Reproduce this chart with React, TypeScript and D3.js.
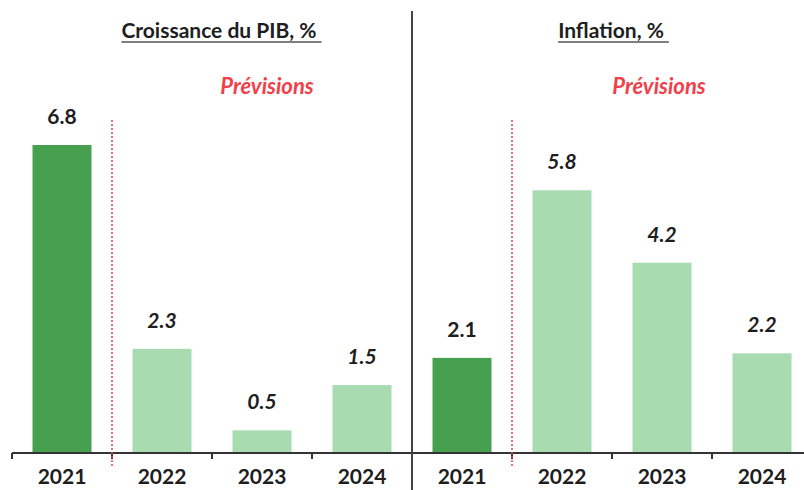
import { useEffect, useRef } from "react";
import * as d3 from "d3";

const years = ["2021", "2022", "2023", "2024"];
const gdpValues = [6.8, 2.3, 0.5, 1.5];
const inflationValues = [2.1, 5.8, 4.2, 2.2];
const panelTitles = ["Croissance du PIB, %", "Inflation, %"];
const forecastLabel = "Prévisions";

const App = () => {
  const ref = useRef<SVGSVGElement | null>(null);

  useEffect(() => {
    const width = 804,
      height = 490;
    const svg = d3.select(ref.current);
    svg.selectAll("*").remove();

    const font = "Lato, 'Open Sans', sans-serif";
    const darkGreen = "#46a04f";
    const lightGreen = "#a9dbb0";
    const red = "#f0404a";
    const textColor = "#1e1e1e";
    const axisY = 453;

    const y = d3.scaleLinear().domain([0, 6.8]).range([axisY, 145]);

    const panels = [
      { values: gdpValues, title: panelTitles[0], range: [12, 412], titleX: 219, forecastX: 267 },
      { values: inflationValues, title: panelTitles[1], range: [412, 812], titleX: 611, forecastX: 659 },
    ];

    panels.forEach((p) => {
      const x = d3
        .scaleBand()
        .domain(years)
        .range(p.range as [number, number])
        .paddingInner(0.41)
        .paddingOuter(0.205);
      const step = x.step();
      const g = svg.append("g");

      // bars
      g.selectAll("rect")
        .data(years)
        .enter()
        .append("rect")
        .attr("x", (d) => x(d)!)
        .attr("y", (d, i) => y(p.values[i]))
        .attr("width", x.bandwidth())
        .attr("height", (d, i) => axisY - y(p.values[i]))
        .attr("fill", (d, i) => (i === 0 ? darkGreen : lightGreen));

      // value labels (actual upright, forecasts italic)
      g.selectAll("text.val")
        .data(years)
        .enter()
        .append("text")
        .attr("class", "val")
        .attr("x", (d) => x(d)! + x.bandwidth() / 2)
        .attr("y", (d, i) => y(p.values[i]) - 21)
        .attr("text-anchor", "middle")
        .attr("font-family", font)
        .attr("font-weight", "bold")
        .attr("font-size", 21)
        .attr("font-style", (d, i) => (i === 0 ? "normal" : "italic"))
        .attr("fill", textColor)
        .text((d, i) => p.values[i].toFixed(1));

      // axis line
      g.append("line")
        .attr("x1", p.range[0])
        .attr("x2", Math.min(p.range[1], width))
        .attr("y1", axisY)
        .attr("y2", axisY)
        .attr("stroke", "#333")
        .attr("stroke-width", 2);

      // ticks at band boundaries
      const boundaries = years.map((d) => x(d)! - (step * 0.41) / 2);
      g.selectAll("line.tick")
        .data(boundaries)
        .enter()
        .append("line")
        .attr("class", "tick")
        .attr("x1", (d) => d)
        .attr("x2", (d) => d)
        .attr("y1", axisY)
        .attr("y2", axisY + 6)
        .attr("stroke", "#333")
        .attr("stroke-width", 2);

      // year labels
      g.selectAll("text.year")
        .data(years)
        .enter()
        .append("text")
        .attr("class", "year")
        .attr("x", (d) => x(d)! + x.bandwidth() / 2)
        .attr("y", 484)
        .attr("text-anchor", "middle")
        .attr("font-family", font)
        .attr("font-weight", "bold")
        .attr("font-size", 21)
        .attr("fill", textColor)
        .text((d) => d);

      // forecast separator
      const sepX = boundaries[1];
      g.append("line")
        .attr("x1", sepX)
        .attr("x2", sepX)
        .attr("y1", 120)
        .attr("y2", 466)
        .attr("stroke", red)
        .attr("stroke-width", 1.5)
        .attr("stroke-dasharray", "2,2");

      g.append("text")
        .attr("x", p.forecastX)
        .attr("y", 94)
        .attr("text-anchor", "middle")
        .attr("font-family", font)
        .attr("font-weight", "bold")
        .attr("font-style", "italic")
        .attr("font-size", 22)
        .attr("fill", red)
        .text(forecastLabel);

      // title, underlined
      const t = g
        .append("text")
        .attr("x", p.titleX)
        .attr("y", 38)
        .attr("text-anchor", "middle")
        .attr("font-family", font)
        .attr("font-weight", "bold")
        .attr("font-size", 21)
        .attr("fill", textColor)
        .text(p.title);
      const bb = (t.node() as SVGTextElement).getBBox();
      g.append("line")
        .attr("x1", bb.x)
        .attr("x2", bb.x + bb.width + 5)
        .attr("y1", 42)
        .attr("y2", 42)
        .attr("stroke", "#555")
        .attr("stroke-width", 1.5);
    });

    // divider between panels
    svg
      .append("line")
      .attr("x1", 412)
      .attr("x2", 412)
      .attr("y1", 11)
      .attr("y2", height)
      .attr("stroke", "#444")
      .attr("stroke-width", 2);
  }, []);

  return (
    <svg
      ref={ref}
      width={804}
      height={490}
      style={{ position: "absolute", left: 0, top: 0, background: "#fff" }}
    />
  );
};

export default App;
